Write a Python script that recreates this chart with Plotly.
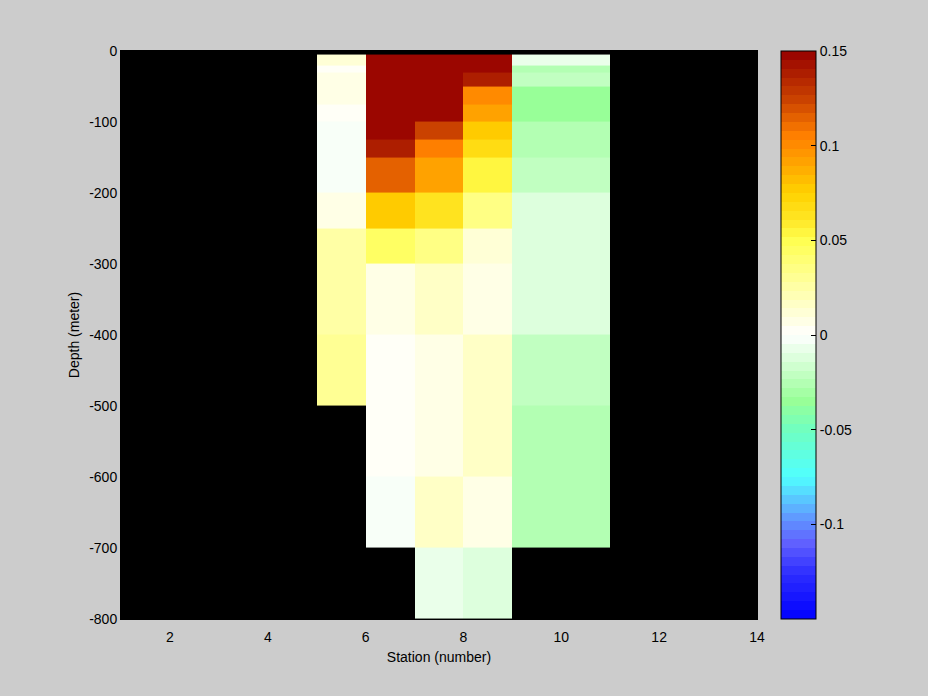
import plotly.graph_objects as go
import numpy as np

# Station edges (x) and depth edges (y, metres)
station_edges = list(range(1, 15))
depth_edges = [-5, -20, -30, -50, -75, -100, -125, -150, -200, -250, -300, -400, -500, -600, -700, -800]

# Cell values per station column, top to bottom (None = no data)
col_5_6 = [0.012, 0.001, 0.009, 0.009, 0.003, -0.002, -0.002, -0.002, 0.009, 0.024, 0.027, 0.030, None, None, None]
col_6_7 = [0.16, 0.16, 0.16, 0.16, 0.16, 0.16, 0.138, 0.113, 0.075, 0.045, 0.008, 0.003, 0.003, -0.002, None]
col_7_8 = [0.16, 0.16, 0.16, 0.16, 0.16, 0.125, 0.105, 0.09, 0.062, 0.037, 0.016, 0.008, 0.008, 0.016, -0.005]
col_8_9 = [0.16, 0.16, 0.138, 0.10, 0.09, 0.075, 0.066, 0.055, 0.035, 0.011, 0.006, 0.016, 0.016, 0.007, -0.014]
col_9_10 = [-0.009, -0.025, -0.020, -0.036, -0.034, -0.025, -0.025, -0.020, -0.014, -0.010, -0.010, -0.020, -0.025, -0.025, None]
col_10_11 = [-0.009, -0.025, -0.020, -0.036, -0.034, -0.025, -0.025, -0.020, -0.014, -0.010, -0.010, -0.020, -0.025, -0.025, None]

x_ticks = [2, 4, 6, 8, 10, 12, 14]
y_ticks = [0, -100, -200, -300, -400, -500, -600, -700, -800]
cbar_ticks = [-0.1, -0.05, 0, 0.05, 0.1, 0.15]
cbar_labels = ["-0.1", "-0.05", "0", "0.05", "0.1", "0.15"]

cmin, cmax = -0.15, 0.15

# build the grid: 15 rows x 13 columns
n_rows = len(depth_edges) - 1
n_cols = len(station_edges) - 1
columns = {4: col_5_6, 5: col_6_7, 6: col_7_8, 7: col_8_9, 8: col_9_10, 9: col_10_11}
z = [[None] * n_cols for _ in range(n_rows)]
for ci, vals in columns.items():
    for ri, v in enumerate(vals):
        z[ri][ci] = v

# reverse to ascending y
y_asc = depth_edges[::-1]
z_asc = z[::-1]

# discrete 64-band colormap
anchors = [
    (-0.150, (0, 0, 255)),
    (-0.125, (48, 48, 255)),
    (-0.110, (96, 96, 255)),
    (-0.095, (96, 160, 255)),
    (-0.075, (80, 255, 255)),
    (-0.050, (112, 255, 192)),
    (-0.035, (152, 255, 152)),
    (0.000, (255, 255, 255)),
    (0.050, (255, 255, 80)),
    (0.060, (255, 232, 40)),
    (0.075, (255, 210, 0)),
    (0.090, (255, 165, 0)),
    (0.105, (255, 128, 0)),
    (0.125, (200, 64, 0)),
    (0.150, (150, 0, 0)),
]
av = np.array([a[0] for a in anchors])
ac = np.array([a[1] for a in anchors], dtype=float)
nb = 64
colorscale = []
for i in range(nb):
    vc = cmin + (i + 0.5) * (cmax - cmin) / nb
    rgb = [int(round(np.interp(vc, av, ac[:, k]))) for k in range(3)]
    col = f"rgb({rgb[0]},{rgb[1]},{rgb[2]})"
    colorscale.append([i / nb, col])
    colorscale.append([(i + 1) / nb, col])

font = dict(family="Liberation Sans, Arial, sans-serif", size=14, color="black")

fig = go.Figure(go.Heatmap(
    x=station_edges,
    y=y_asc,
    z=z_asc,
    zmin=cmin, zmax=cmax,
    colorscale=colorscale,
    hoverongaps=False,
    colorbar=dict(
        x=1.0377, xanchor="left", xpad=0,
        y=0.5, yanchor="middle", ypad=0,
        len=1.0, lenmode="fraction",
        thickness=35, thicknessmode="pixels",
        outlinewidth=1, outlinecolor="black",
        tickvals=cbar_ticks, ticktext=cbar_labels,
        ticks="inside", ticklen=5, tickcolor="black",
        tickfont=font,
    ),
))

fig.update_layout(
    width=928, height=696,
    paper_bgcolor="#cccccc",
    plot_bgcolor="black",
    margin=dict(l=121, r=171, t=51, b=77),
    font=font,
    showlegend=False,
)
fig.update_xaxes(
    range=[1, 14], tickvals=x_ticks, ticktext=[str(t) for t in x_ticks],
    showgrid=False, zeroline=False,
    ticks="outside", ticklen=5, tickcolor="rgba(0,0,0,0)", tickfont=font,
    showline=True, linecolor="black", mirror=True,
    title=dict(text="Station (number)", font=font, standoff=8),
)
fig.update_yaxes(
    range=[-800, 0], tickvals=y_ticks, ticktext=[str(t) for t in y_ticks],
    showgrid=False, zeroline=False, ticks="", tickfont=font,
    showline=True, linecolor="black", mirror=True,
    title=dict(text="Depth (meter)", font=font, standoff=6),
)

fig.write_html(
    "out.html",
    config={"displayModeBar": False},
    post_script="document.body.style.margin='0';document.body.style.overflow='hidden';document.body.style.background='#cccccc';",
)
